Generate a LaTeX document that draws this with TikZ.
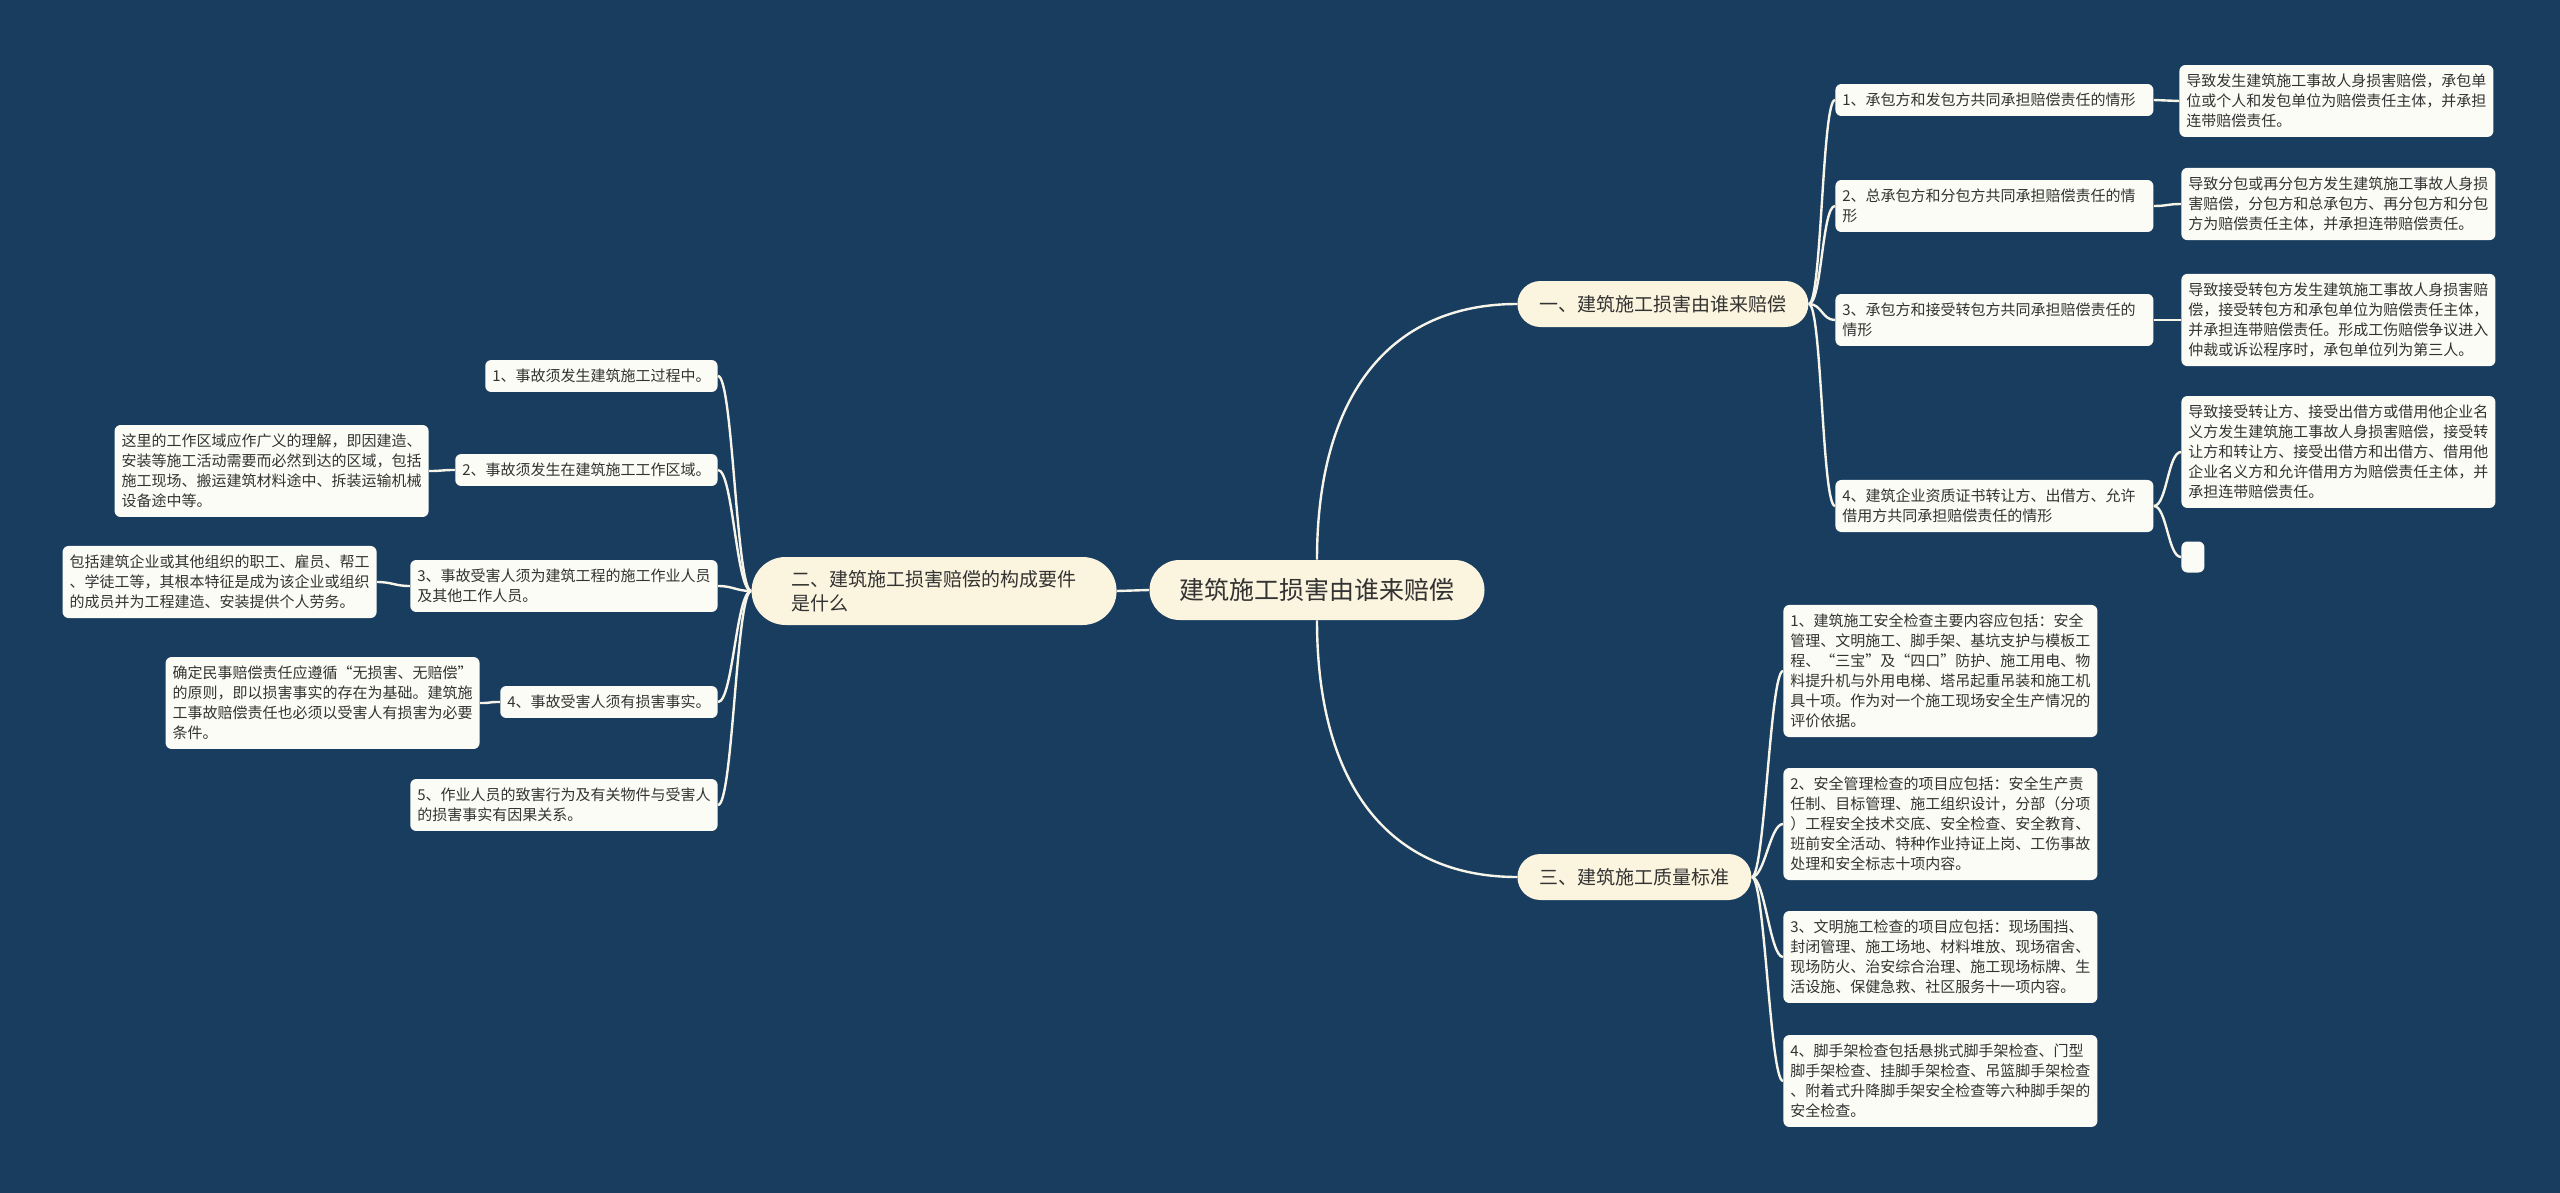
\documentclass[tikz,border=0pt]{standalone}
\usepackage{fontspec}
\setmainfont{Noto Sans CJK SC}
\definecolor{bgblue}{HTML}{183D5E}
\definecolor{cream}{HTML}{FBF4DE}
\definecolor{paper}{HTML}{FCFCF6}
\definecolor{ink}{HTML}{333333}
\definecolor{wire}{HTML}{F7F5EA}

\begin{document}
\begin{tikzpicture}[
  x=0.5pt, y=0.5pt,
  root/.style={fill=cream, text=ink, rounded corners=15pt, minimum height=30pt,
    inner xsep=15pt, font=\fontsize{12.5}{15}\selectfont},
  topic/.style={fill=cream, text=ink, rounded corners=11.5pt, minimum height=23pt,
    inner xsep=11pt, align=left, font=\fontsize{9.5}{12}\selectfont},
  leaf/.style={fill=paper, text=ink, rounded corners=3pt, inner xsep=3.5pt,
    inner ysep=4.5pt, align=left, font=\fontsize{7.5}{10}\selectfont},
  link/.style={draw=wire, line width=1.2pt},
  rfork/.style={out=0, in=180, distance=6.5pt},
  lfork/.style={out=180, in=0, distance=7.5pt}
]
\fill[bgblue] (0,0) rectangle (2560,-1193);
\useasboundingbox (0,0) rectangle (2560,-1193);

\node[root] (root) at (1317,-590) {建筑施工损害由谁来赔偿};
\node[topic, anchor=west] (who) at (1517,-304) {一、建筑施工损害由谁来赔偿};
\node[topic, anchor=east, inner xsep=20pt, rounded corners=17pt, minimum height=34pt]
  (need) at (1117,-591) {二、建筑施工损害赔偿的构成要件\\是什么};
\node[topic, anchor=west] (std) at (1517,-877) {三、建筑施工质量标准};

\node[leaf, anchor=west, text width=152pt] (w1) at (1835,-100)
  {1、承包方和发包方共同承担赔偿责任的情形};
\node[leaf, anchor=west, text width=152pt] (w2) at (1835,-206)
  {2、总承包方和分包方共同承担赔偿责任的情\\形};
\node[leaf, anchor=west, text width=152pt] (w3) at (1835,-320)
  {3、承包方和接受转包方共同承担赔偿责任的\\情形};
\node[leaf, anchor=west, text width=152pt] (w4) at (1835,-506)
  {4、建筑企业资质证书转让方、出借方、允许\\借用方共同承担赔偿责任的情形};

\node[leaf, anchor=west] (w1d) at (2179,-101)
  {导致发生建筑施工事故人身损害赔偿，承包单\\位或个人和发包单位为赔偿责任主体，并承担\\连带赔偿责任。};
\node[leaf, anchor=west] (w2d) at (2181,-204)
  {导致分包或再分包方发生建筑施工事故人身损\\害赔偿，分包方和总承包方、再分包方和分包\\方为赔偿责任主体，并承担连带赔偿责任。};
\node[leaf, anchor=west] (w3d) at (2181,-320)
  {导致接受转包方发生建筑施工事故人身损害赔\\偿，接受转包方和承包单位为赔偿责任主体，\\并承担连带赔偿责任。形成工伤赔偿争议进入\\仲裁或诉讼程序时，承包单位列为第三人。};
\node[leaf, anchor=west] (w4d) at (2181,-452)
  {导致接受转让方、接受出借方或借用他企业名\\义方发生建筑施工事故人身损害赔偿，接受转\\让方和转让方、接受出借方和出借方、借用他\\企业名义方和允许借用方为赔偿责任主体，并\\承担连带赔偿责任。};
\node[leaf, anchor=west, minimum width=11.5pt, minimum height=15.5pt] (w4e) at (2181,-557) {};

\node[leaf, anchor=west] (s1) at (1783,-671)
  {1、建筑施工安全检查主要内容应包括：安全\\管理、文明施工、脚手架、基坑支护与模板工\\程、“三宝”及“四口”防护、施工用电、物\\料提升机与外用电梯、塔吊起重吊装和施工机\\具十项。作为对一个施工现场安全生产情况的\\评价依据。};
\node[leaf, anchor=west] (s2) at (1783,-824)
  {2、安全管理检查的项目应包括：安全生产责\\任制、目标管理、施工组织设计，分部（分项\\）工程安全技术交底、安全检查、安全教育、\\班前安全活动、特种作业持证上岗、工伤事故\\处理和安全标志十项内容。};
\node[leaf, anchor=west] (s3) at (1783,-957)
  {3、文明施工检查的项目应包括：现场围挡、\\封闭管理、施工场地、材料堆放、现场宿舍、\\现场防火、治安综合治理、施工现场标牌、生\\活设施、保健急救、社区服务十一项内容。};
\node[leaf, anchor=west] (s4) at (1783,-1081)
  {4、脚手架检查包括悬挑式脚手架检查、门型\\脚手架检查、挂脚手架检查、吊篮脚手架检查\\、附着式升降脚手架安全检查等六种脚手架的\\安全检查。};

\node[leaf, anchor=east] (n1) at (718,-376) {1、事故须发生建筑施工过程中。};
\node[leaf, anchor=east] (n2) at (718,-470) {2、事故须发生在建筑施工工作区域。};
\node[leaf, anchor=east] (n3) at (718,-586)
  {3、事故受害人须为建筑工程的施工作业人员\\及其他工作人员。};
\node[leaf, anchor=east] (n4) at (718,-702) {4、事故受害人须有损害事实。};
\node[leaf, anchor=east] (n5) at (718,-805)
  {5、作业人员的致害行为及有关物件与受害人\\的损害事实有因果关系。};

\node[leaf, anchor=east] (n2d) at (429,-471)
  {这里的工作区域应作广义的理解，即因建造、\\安装等施工活动需要而必然到达的区域，包括\\施工现场、搬运建筑材料途中、拆装运输机械\\设备途中等。};
\node[leaf, anchor=east] (n3d) at (377,-582)
  {包括建筑企业或其他组织的职工、雇员、帮工\\、学徒工等，其根本特征是成为该企业或组织\\的成员并为工程建造、安装提供个人劳务。};
\node[leaf, anchor=east] (n4d) at (480,-703)
  {确定民事赔偿责任应遵循“无损害、无赔偿”\\的原则，即以损害事实的存在为基础。建筑施\\工事故赔偿责任也必须以受害人有损害为必要\\条件。};

\draw[link] (root.west) -- (need.east);
\draw[link] (root.north) to[out=90, in=180, out looseness=1.3] (who.west);
\draw[link] (root.south) to[out=-90, in=180, out looseness=1.3] (std.west);

\draw[link] (who.east) to[rfork] (w1.west);
\draw[link] (who.east) to[rfork] (w2.west);
\draw[link] (who.east) to[rfork] (w3.west);
\draw[link] (who.east) to[rfork] (w4.west);
\draw[link] (w1.east) to[rfork] (w1d.west);
\draw[link] (w2.east) to[rfork] (w2d.west);
\draw[link] (w3.east) to[rfork] (w3d.west);
\draw[link] (w4.east) to[rfork] (w4d.west);
\draw[link] (w4.east) to[rfork] (w4e.west);

\draw[link] (std.east) to[rfork] (s1.west);
\draw[link] (std.east) to[rfork] (s2.west);
\draw[link] (std.east) to[rfork] (s3.west);
\draw[link] (std.east) to[rfork] (s4.west);

\draw[link] (need.west) to[lfork] (n1.east);
\draw[link] (need.west) to[lfork] (n2.east);
\draw[link] (need.west) to[lfork] (n3.east);
\draw[link] (need.west) to[lfork] (n4.east);
\draw[link] (need.west) to[lfork] (n5.east);
\draw[link] (n2.west) to[lfork] (n2d.east);
\draw[link] (n3.west) to[lfork] (n3d.east);
\draw[link] (n4.west) to[lfork] (n4d.east);
\end{tikzpicture}
\end{document}
